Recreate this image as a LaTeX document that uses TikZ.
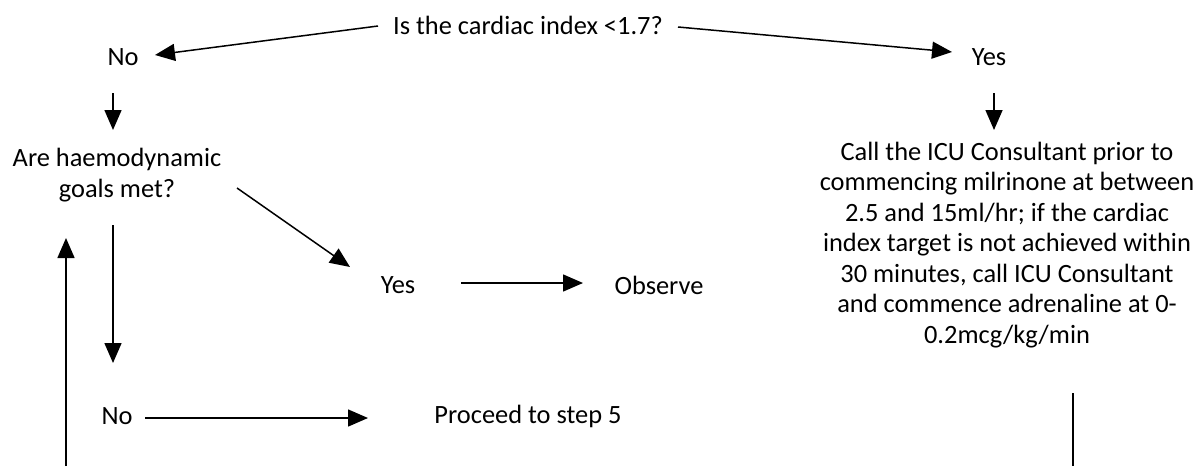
\documentclass[tikz,border=0pt]{standalone}
\usepackage{fontspec}
\setmainfont{Carlito}
\usetikzlibrary{positioning, arrows.meta, calc}

\begin{document}
\begin{tikzpicture}[x=0.5pt, y=-0.5pt,
		every node/.style={inner sep=0pt, outer sep=0pt, font=\fontsize{13.2}{15.25}\selectfont},
		flow/.style={-{Triangle[length=10pt, width=8.5pt]}, line width=0.75pt}]
		\useasboundingbox (0,0) rectangle (1202,466);
		\node (question) at (528,25) {Is the cardiac index <1.7?};
		\node (no1) at (123,57) {No};
		\node (yes1) at (989,57) {Yes};
		\node[align=center] (goals) at (117,175) {Are haemodynamic\\goals met?};
		\node (yes2) at (398,285) {Yes};
		\node (observe) at (659,285) {Observe};
		\node (no2) at (117,416) {No};
		\node (step5) at (528,416) {Proceed to step 5};
		\node[align=center] (icu) at (1007,245) {Call the ICU Consultant prior to\\commencing milrinone at between\\2.5 and 15ml/hr; if the cardiac\\index target is not achieved within\\30 minutes, call ICU Consultant\\and commence adrenaline at 0-\\0.2mcg/kg/min};
		\coordinate (loopin) at (66,466);
		\coordinate (icuout) at (1073,466);
		
		\draw[flow] ($(question)+(-150,1)$) -- ($(no1)+(32,-2)$);
		\draw[flow] ($(question)+(150,2)$) -- ($(yes1)+(-37,-5)$);
		\draw[flow] ($(no1)+(-10,36)$) -- ($(goals)+(-4,-45)$);
		\draw[flow] ($(yes1)+(5,36)$) -- ($(icu)+(-13,-115)$);
		\draw[flow] ($(goals)+(120,13)$) -- ($(yes2)+(-48,-18)$);
		\draw[flow] ($(goals)+(-4,50)$) -- ($(no2)+(-4,-53)$);
		\draw[flow] ($(yes2)+(63,-2)$) -- ($(observe)+(-76,-2)$);
		\draw[flow] ($(no2)+(28,2)$) -- ($(step5)+(-160,2)$);
		\draw[flow] (loopin) -- ($(loopin |- goals)+(0,63)$);
		\draw[line width=0.75pt] ($(icu)+(66,148)$) -- (icuout);
	\end{tikzpicture}
\end{document}
